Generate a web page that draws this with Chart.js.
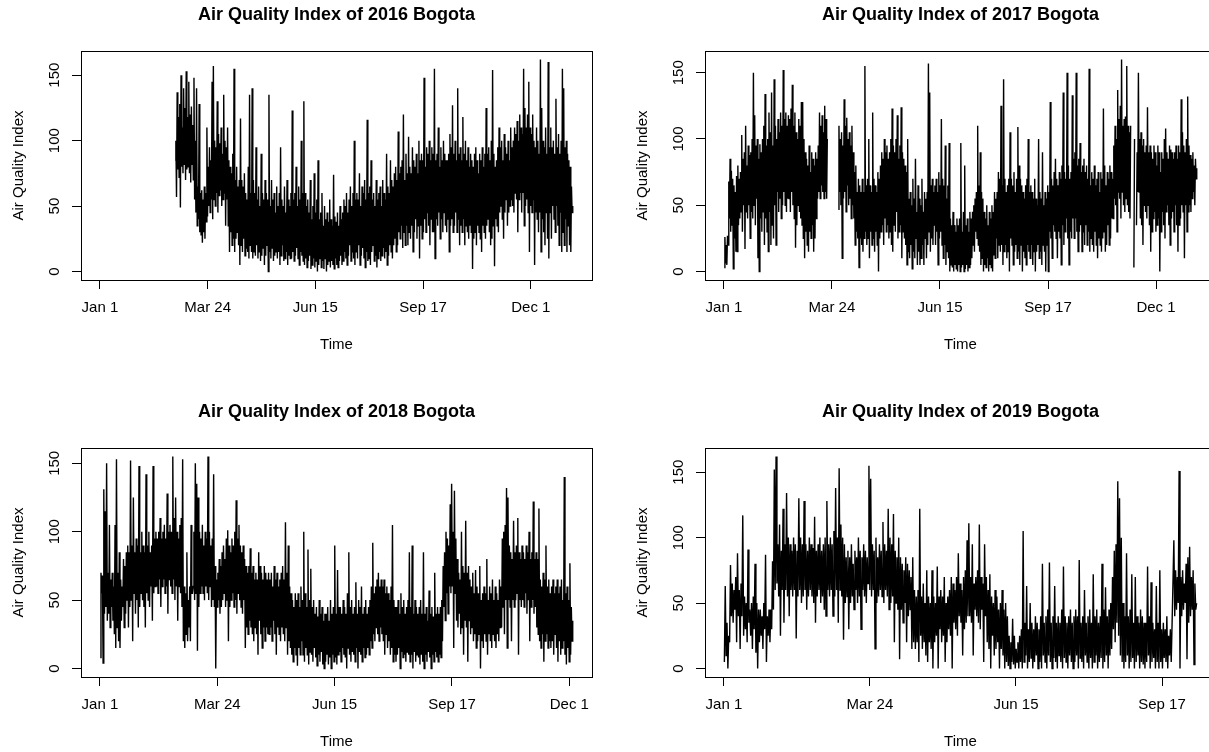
<!DOCTYPE html>
<html>
<head>
<meta charset="utf-8">
<script src="https://cdn.jsdelivr.net/npm/chart.js@4.4.1/dist/chart.umd.min.js"></script>
<style>
html,body{margin:0;padding:0;background:#fff;}
body{width:1209px;height:752px;position:relative;overflow:hidden;}
.p{position:absolute;}
canvas{display:block;}
</style>
</head>
<body>
<div class="p" style="left:0px;top:0px"><canvas id="c2016" width="604" height="376"></canvas></div>
<div class="p" style="left:624px;top:0px"><canvas id="c2017" width="604" height="376"></canvas></div>
<div class="p" style="left:0px;top:397px"><canvas id="c2018" width="604" height="376"></canvas></div>
<div class="p" style="left:624px;top:397px"><canvas id="c2019" width="604" height="376"></canvas></div>
<script>
// ---- data: daily low / daily high readings ----
const TICK_HOURS = [0, 2000, 4000, 6000, 8000];
const TICK_LABELS = ['Jan 1', 'Mar 24', 'Jun 15', 'Sep 17', 'Dec 1'];
const Y_TICKS = [0, 50, 100, 150];
const YEARS = ['2016', '2017', '2018', '2019'];
const START_DAY = [58, 0, 0, 0];

const HIGH_2016 = [
100,137,118,128,150,110,140,125,153,118,
145,120,126,112,148,100,140,65,128,60,
62,55,65,60,110,80,95,85,145,157,
100,95,130,105,98,110,90,135,100,95,
110,85,80,75,90,155,70,80,65,70,
117,70,65,75,60,55,80,135,60,140,
70,60,95,55,65,50,90,60,55,70,
60,55,135,50,70,55,60,45,65,50,
60,95,55,50,65,45,70,55,50,60,
123,55,60,80,50,65,55,100,60,130,
60,50,55,45,70,40,50,75,45,55,
85,40,45,60,35,50,40,45,38,55,
40,35,74,42,38,45,35,50,40,45,
55,50,60,45,55,65,50,60,100,55,
60,55,75,50,65,60,70,55,116,60,
65,85,55,60,50,70,55,60,65,50,
70,60,55,90,65,60,85,70,65,75,
80,70,107,75,80,85,120,70,90,75,
103,80,75,95,85,80,90,75,100,85,
90,85,148,80,95,90,100,85,95,90,
155,85,90,110,80,95,85,100,90,85,
85,90,105,95,127,90,100,85,140,90,
95,85,118,90,100,85,95,80,90,85,
80,90,95,85,75,90,85,95,80,90,
125,90,95,85,100,154,90,80,85,95,
110,95,100,85,105,95,90,100,85,110,
95,100,110,105,115,100,120,110,105,155,
125,110,120,145,110,105,120,100,95,110,
100,90,162,125,100,95,110,90,160,95,
110,95,100,90,132,95,105,90,100,155,
140,95,100,90,85,80,65,50
];
const LOW_2016 = [
85,57,78,72,49,80,75,82,70,78,
80,75,68,82,70,55,45,35,40,30,
28,22,30,25,38,42,50,45,55,40,
55,50,60,45,58,62,50,55,60,35,
55,35,15,30,20,25,15,25,30,20,
5,20,15,25,12,18,15,10,20,15,
10,15,12,20,10,15,8,12,18,5,
12,20,0,15,10,18,8,12,15,10,
15,5,12,20,8,10,15,5,12,10,
10,15,8,12,18,10,5,15,12,8,
5,10,3,8,12,2,5,10,3,8,
0,5,10,3,8,2,10,0,5,8,
3,8,5,2,10,5,3,8,12,5,
8,15,10,5,12,20,8,15,10,5,
15,10,20,5,12,18,10,3,15,8,
10,5,15,20,8,12,3,10,15,8,
12,18,10,15,5,12,20,15,10,20,
25,15,20,30,25,35,18,30,20,35,
20,30,25,35,15,30,40,25,35,10,
35,25,30,40,30,45,35,20,40,30,
30,10,40,35,45,25,40,30,45,35,
30,40,15,35,40,30,35,45,30,40,
20,35,30,40,20,35,30,25,35,30,
2,25,30,20,35,30,25,15,35,30,
25,35,40,30,20,25,35,4,40,35,
30,45,50,40,25,45,55,35,45,50,
55,50,45,60,55,30,55,60,45,60,
35,50,55,45,15,50,45,55,5,45,
40,30,45,15,40,30,20,45,25,10,
45,25,50,40,30,50,35,20,45,15,
30,20,40,15,35,20,15,45
];

const HIGH_2017 = [
26,20,27,68,85,76,70,65,60,72,
80,70,75,103,85,90,110,80,95,88,
90,100,150,118,95,100,85,96,90,100,
110,134,95,100,120,105,135,95,145,110,
100,115,105,120,110,152,115,120,110,118,
115,123,141,110,120,105,100,115,110,128,
128,100,90,85,80,95,75,90,85,80,
90,85,95,120,110,118,105,125,115,100,
null,null,null,null,null,null,null,null,110,100,
105,95,130,110,116,100,105,95,110,90,
75,80,60,70,65,60,70,60,155,65,
70,100,65,60,120,70,65,60,75,70,
80,90,85,100,90,95,85,90,100,123,
95,90,100,118,85,95,124,90,85,80,
75,100,55,60,50,70,55,85,45,65,
55,50,70,45,60,55,60,157,135,65,
70,60,65,70,60,75,65,115,70,65,
95,55,65,97,40,35,45,35,30,40,
35,40,97,30,45,80,35,40,30,45,
40,45,50,55,60,110,65,90,60,55,
45,40,50,35,45,40,50,45,60,55,
60,75,70,125,65,145,70,60,65,70,
105,70,65,75,60,70,109,80,70,65,
60,55,65,70,100,60,65,60,55,70,
55,50,100,60,55,90,50,60,55,65,
60,128,70,65,75,85,70,65,75,70,
80,135,75,70,150,80,70,75,133,85,
90,150,80,85,97,75,80,85,75,80,
70,153,65,75,70,80,65,70,75,60,
75,70,123,80,65,75,70,80,75,70,
95,110,100,137,115,125,160,110,115,117,
155,110,105,110,null,null,100,null,90,150,
100,105,95,100,90,95,124,90,95,90,
85,95,90,80,95,90,75,90,85,100,
108,90,85,95,92,90,85,90,95,85,
95,90,130,105,95,90,100,132,95,88,
85,90,80,85,78
];
const LOW_2017 = [
3,6,5,20,40,30,35,2,25,15,
15,35,40,45,30,50,17,45,40,50,
25,45,40,50,35,55,10,0,40,30,
45,20,40,30,15,45,20,35,25,50,
20,60,45,55,40,50,60,50,45,55,
55,45,60,50,40,18,35,50,45,40,
35,25,10,30,20,15,30,25,35,15,
25,40,55,60,55,65,60,55,60,55,
null,null,null,null,null,null,null,null,47,60,
50,10,55,60,45,65,50,55,40,50,
40,20,30,25,3,25,20,15,25,30,
20,25,10,30,20,25,15,30,20,0,
25,30,35,20,40,30,35,25,30,20,
15,35,30,45,25,30,35,10,30,25,
20,5,15,10,20,2,15,10,25,5,
15,5,10,20,5,25,10,20,30,15,
25,20,35,20,30,5,25,30,20,10,
20,5,15,10,0,5,3,0,5,2,
0,5,0,3,5,0,2,5,0,3,
5,10,20,15,30,25,20,15,5,10,
0,5,3,10,0,5,3,0,12,10,
25,10,20,15,20,5,15,20,10,15,
0,25,20,5,15,20,10,15,5,20,
0,15,10,5,20,15,10,20,5,15,
0,15,20,10,15,5,20,15,0,20,
0,30,25,10,35,30,25,10,30,25,
5,35,20,30,40,25,5,30,25,40,
25,40,30,15,30,35,15,30,20,35,
20,30,15,25,20,15,30,20,10,25,
20,15,25,30,15,20,35,20,25,40,
40,55,50,30,60,55,40,60,50,45,
55,50,45,40,null,null,3,null,35,60,
60,40,35,20,50,45,40,50,35,15,
30,40,45,30,35,40,0,30,45,35,
25,45,50,35,20,40,45,30,50,35,
15,35,40,50,45,10,50,30,45,50,
45,55,60,50,70
];

const HIGH_2018 = [
70,68,131,115,150,70,105,65,70,60,
105,153,70,85,65,60,80,75,85,90,
85,152,90,125,85,95,90,148,85,100,
90,85,142,90,100,85,90,148,95,100,
95,100,110,95,100,105,95,128,100,105,
100,155,110,125,100,95,105,110,153,60,
55,85,50,60,105,55,100,150,135,125,
100,95,105,90,100,95,155,100,90,95,
142,75,65,70,80,75,85,90,80,95,
101,90,85,95,90,100,123,95,105,90,
85,90,80,75,70,75,88,70,75,65,
70,65,85,75,70,65,75,70,65,70,
65,70,60,75,65,70,60,65,70,75,
65,107,70,90,60,55,50,45,55,50,
55,45,60,50,100,55,45,87,50,73,
45,50,40,45,38,50,40,45,35,40,
40,45,35,50,40,45,90,40,72,45,
45,40,50,45,40,55,85,45,50,40,
45,63,40,50,45,60,40,45,50,40,
45,50,60,92,55,60,65,70,60,65,
60,65,55,60,55,50,60,105,50,45,
45,50,40,55,45,50,40,45,50,85,
45,90,40,50,45,40,45,50,40,85,
40,45,35,57,40,45,38,70,40,45,
40,45,50,75,85,100,95,90,120,135,
100,130,95,80,70,65,100,75,70,108,
70,75,65,60,70,55,72,60,55,75,
50,55,60,55,80,50,60,55,65,50,
60,55,50,65,60,95,100,105,132,125,
90,85,80,108,85,90,110,85,80,90,
85,80,90,85,100,80,85,122,80,85,
80,117,65,60,70,65,90,60,65,55,
60,65,55,60,65,55,60,65,50,140,
55,60,50,77,45,35
];
const LOW_2018 = [
8,55,4,40,45,35,40,30,45,35,
25,15,30,20,15,35,45,30,40,50,
30,45,50,20,55,40,50,30,45,55,
50,45,30,55,50,45,60,35,55,60,
60,55,65,45,60,65,55,60,40,65,
60,55,65,50,60,35,60,55,45,20,
15,25,20,30,20,55,60,50,55,13,
45,55,60,55,50,60,55,50,60,45,
50,45,0,45,50,40,45,50,55,45,
50,20,45,50,55,45,50,40,55,50,
45,40,50,15,30,25,35,30,25,20,
30,25,10,35,25,15,30,20,30,25,
25,30,20,35,25,10,30,25,20,30,
25,20,30,10,20,15,10,5,15,10,
2,15,10,20,10,5,15,10,3,12,
10,5,15,8,2,10,5,12,3,0,
5,10,3,8,0,10,5,8,3,10,
12,5,15,10,8,0,15,10,5,12,
10,5,15,0,12,10,5,15,8,10,
15,10,20,15,25,20,30,25,20,30,
25,20,10,25,15,20,10,15,5,10,
5,10,15,0,12,8,10,5,12,10,
5,10,0,12,5,10,8,3,10,5,
0,10,5,12,8,0,10,5,12,8,
5,10,8,20,45,35,55,40,60,55,
60,15,55,35,30,40,25,30,10,35,
30,5,35,25,30,20,25,15,20,25,
0,20,15,25,20,10,25,20,15,25,
20,15,25,20,30,30,45,25,50,15,
50,45,20,50,45,50,55,10,50,45,
50,45,55,40,50,20,45,50,40,45,
30,25,20,15,25,5,20,25,15,20,
15,20,10,25,15,5,20,10,15,20,
10,3,15,5,10,20
];

const HIGH_2019 = [
63,35,25,79,65,60,70,88,60,65,
117,55,50,91,45,50,55,80,50,45,
45,40,50,87,40,45,45,82,152,162,
95,110,90,122,95,134,100,95,90,100,
95,90,130,100,95,128,95,90,100,95,
92,116,90,95,100,90,95,100,128,95,
100,95,105,138,100,153,110,100,95,85,
90,85,95,80,90,85,100,90,85,95,
90,85,155,145,95,90,100,85,95,90,
112,95,90,122,100,95,118,90,85,100,
85,80,75,85,80,75,70,85,60,55,
60,122,55,65,50,75,55,50,75,55,
50,78,55,60,55,70,50,55,60,70,
65,60,70,88,65,60,70,75,98,111,
70,95,65,70,75,110,70,65,95,70,
60,72,55,50,60,55,45,50,60,45,
50,40,25,20,38,25,15,20,25,30,
105,35,63,30,50,35,30,40,35,30,
40,80,35,40,45,81,35,40,63,35,
40,35,45,78,40,35,40,45,35,40,
45,40,83,35,40,60,35,40,45,35,
72,40,45,35,40,80,45,62,40,45,
50,70,90,95,143,130,100,50,40,88,
40,45,72,35,70,40,35,45,40,35,
35,78,40,66,35,30,63,35,75,30,
35,30,40,25,30,35,98,75,70,151,
70,75,65,80,85,93,70,75,65,50
];
const LOW_2019 = [
5,10,0,20,40,35,45,20,40,15,
40,25,30,20,35,25,15,30,12,0,
20,25,15,30,5,25,20,30,45,60,
65,55,25,60,35,60,55,40,60,55,
60,23,55,60,50,55,60,45,55,60,
55,50,35,55,60,50,55,45,40,60,
55,60,40,55,60,35,60,55,22,50,
55,30,50,55,45,60,50,55,30,60,
55,50,65,60,55,60,15,50,55,60,
55,50,60,55,45,50,55,20,50,45,
7,45,35,50,20,40,45,15,20,15,
20,5,25,15,20,10,5,20,15,0,
20,25,0,30,20,25,5,20,30,25,
0,35,30,25,40,35,10,30,35,40,
40,35,10,45,40,35,30,45,5,40,
20,15,0,25,10,15,20,0,15,10,
0,5,2,0,5,3,0,5,0,5,
0,5,10,0,5,8,0,5,10,0,
5,0,10,5,0,10,5,0,8,5,
0,10,5,0,8,5,0,10,5,0,
5,10,0,8,5,0,10,5,0,8,
0,5,10,0,5,8,0,5,10,0,
10,15,30,20,35,25,10,5,0,5,
10,0,5,8,0,5,10,0,5,3,
0,5,10,0,5,8,0,5,0,5,
0,8,5,0,10,5,35,40,45,50,
0,40,45,50,7,35,40,45,3,45
];

const LOWS = [LOW_2016, LOW_2017, LOW_2018, LOW_2019];
const HIGHS = [HIGH_2016, HIGH_2017, HIGH_2018, HIGH_2019];

// ---- layout (R base-graphics look) ----
const FONT = "'Liberation Sans', Arial, Helvetica, sans-serif";
const G = {W: 604, H: 376, l: 81, r: 592, t: 51, b: 280};

const framePlugin = {
  id: 'rframe',
  afterDraw(chart) {
    const ctx = chart.ctx, a = chart.chartArea, ys = chart.scales.y;
    ctx.save();
    ctx.strokeStyle = '#000';
    ctx.lineWidth = 1;
    ctx.strokeRect(Math.round(a.left) + 0.5, Math.round(a.top) + 0.5,
                   Math.round(a.right - a.left), Math.round(a.bottom - a.top));
    ctx.fillStyle = '#000';
    ctx.font = '15px ' + FONT;
    ctx.textAlign = 'center';
    ctx.textBaseline = 'middle';
    ys.ticks.forEach(t => {
      const y = ys.getPixelForValue(t.value);
      ctx.save();
      ctx.translate(a.left - 26, y);
      ctx.rotate(-Math.PI / 2);
      ctx.fillText(String(t.value), 0, 0);
      ctx.restore();
    });
    ctx.restore();
  }
};

function makePanel(k) {
  const lows = LOWS[k], highs = HIGHS[k], start = START_DAY[k];
  const pts = [];
  lows.forEach((lo, i) => {
    const d = (start + i) * 24;
    pts.push({x: d + 6, y: lo});
    pts.push({x: d + 18, y: highs[i]});
  });
  const xEnd = (start + lows.length) * 24;
  const nums = lows.concat(highs).filter(v => v !== null);
  const yMin = Math.min(...nums), yMax = Math.max(...nums);
  const xPad = 0.04 * xEnd, yPad = 0.04 * (yMax - yMin);

  new Chart(document.getElementById('c' + YEARS[k]), {
    type: 'line',
    data: {
      datasets: [{
        data: pts,
        borderColor: '#000',
        borderWidth: 1.4,
        pointRadius: 0,
        tension: 0,
        fill: false,
        spanGaps: false
      }]
    },
    options: {
      responsive: false,
      devicePixelRatio: 1,
      animation: false,
      events: [],
      layout: {padding: {left: 0, right: G.W - G.r, top: 0, bottom: 0}},
      plugins: {
        legend: {display: false},
        tooltip: {enabled: false},
        title: {
          display: true,
          fullSize: false,
          text: 'Air Quality Index of ' + YEARS[k] + ' Bogota',
          color: '#000',
          font: {family: FONT, size: 18, weight: 'bold', lineHeight: 1.2},
          padding: {top: 4.2, bottom: 25.2}
        }
      },
      scales: {
        x: {
          type: 'linear',
          position: 'bottom',
          min: -xPad,
          max: xEnd + xPad,
          afterBuildTicks: s => {
            s.ticks = TICK_HOURS.filter(h => h >= s.min && h <= s.max).map(h => ({value: h}));
          },
          afterFit: s => { s.height = G.H - G.b; },
          ticks: {
            autoSkip: false,
            maxRotation: 0,
            minRotation: 0,
            padding: 10,
            color: '#000',
            font: {family: FONT, size: 15, lineHeight: 1.2},
            callback: v => TICK_LABELS[TICK_HOURS.indexOf(v)]
          },
          grid: {drawOnChartArea: false, drawTicks: true, tickLength: 9, color: '#000', lineWidth: 1},
          border: {display: false},
          title: {
            display: true,
            text: 'Time',
            color: '#000',
            font: {family: FONT, size: 15, lineHeight: 1.2},
            padding: {top: 0, bottom: 22}
          }
        },
        y: {
          type: 'linear',
          position: 'left',
          min: yMin - yPad,
          max: yMax + yPad,
          afterBuildTicks: s => {
            s.ticks = Y_TICKS.filter(v => v >= s.min && v <= s.max).map(v => ({value: v}));
          },
          afterFit: s => { s.width = G.l; },
          ticks: {display: false},
          grid: {drawOnChartArea: false, drawTicks: true, tickLength: 9, color: '#000', lineWidth: 1},
          border: {display: false},
          title: {
            display: true,
            text: 'Air Quality Index',
            color: '#000',
            font: {family: FONT, size: 15, lineHeight: 1.2},
            padding: {top: 10.3, bottom: 0}
          }
        }
      }
    },
    plugins: [framePlugin]
  });
}

for (let k = 0; k < 4; k++) makePanel(k);
</script>
</body>
</html>
